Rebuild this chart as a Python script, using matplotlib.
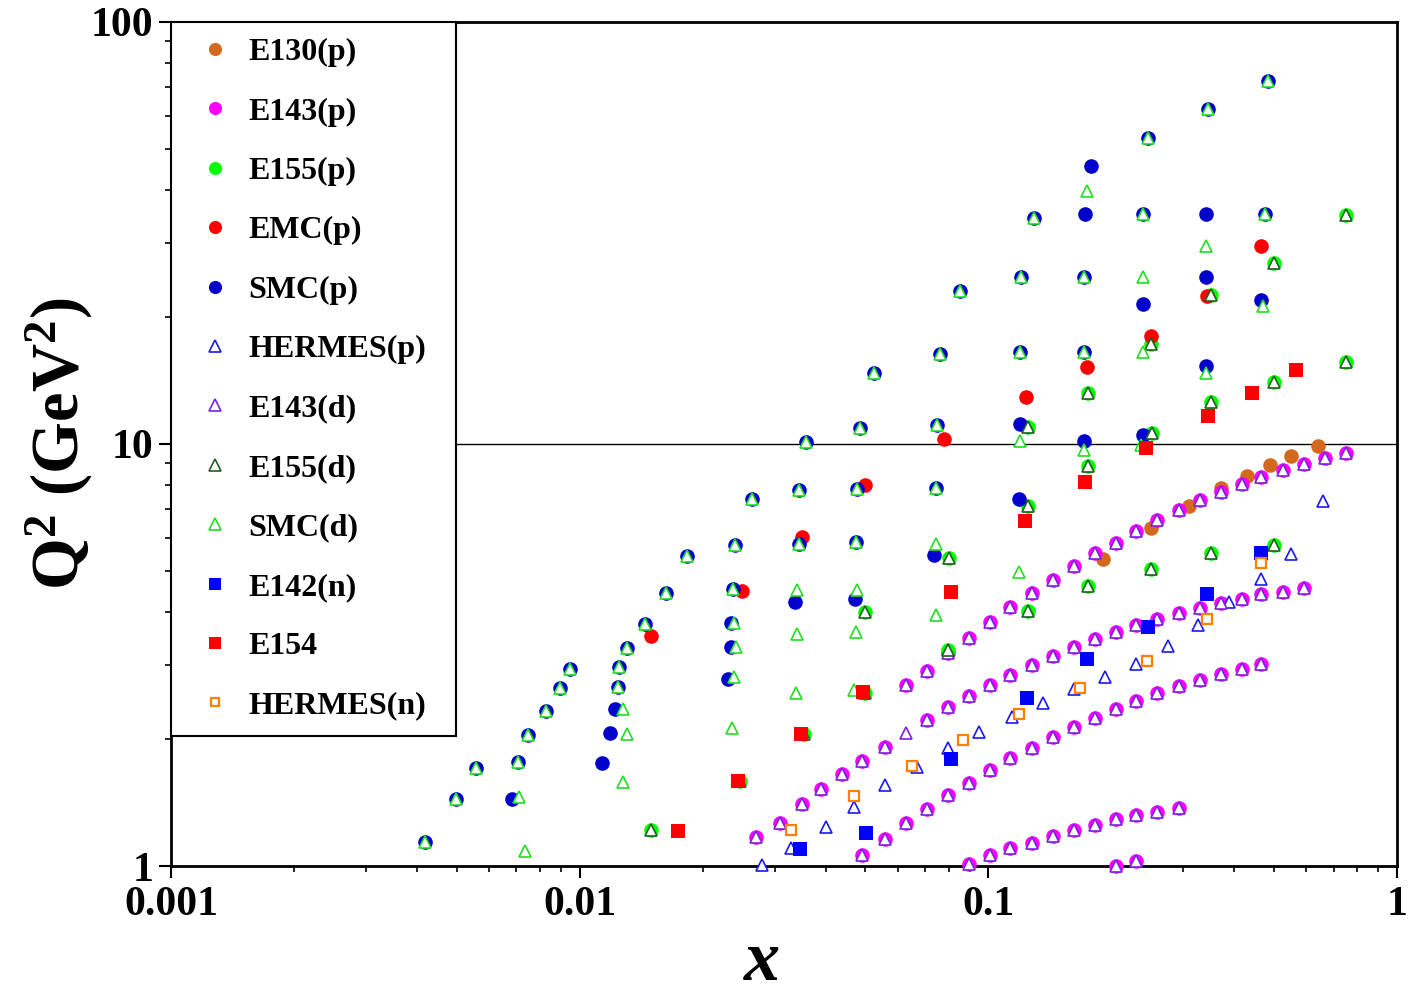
import matplotlib
matplotlib.use('Agg')
import matplotlib.pyplot as plt
from matplotlib.ticker import FixedLocator, FixedFormatter, LogLocator, NullFormatter

plt.rcParams['font.family'] = ['Liberation Serif', 'DejaVu Serif']
plt.rcParams['font.weight'] = 'bold'
plt.rcParams['mathtext.fontset'] = 'custom'
plt.rcParams['mathtext.rm'] = 'Liberation Serif:bold'
plt.rcParams['mathtext.bf'] = 'Liberation Serif:bold'
plt.rcParams['mathtext.it'] = 'Liberation Serif:bold:italic'

# ---- kinematic coverage (x, Q^2 in GeV^2) ---------------------------------
e130p_x = [0.1907, 0.2500, 0.3096, 0.3708, 0.4294, 0.4887, 0.5500, 0.6405]
e130p_q2 = [5.35, 6.33, 7.14, 7.88, 8.41, 8.93, 9.38, 9.91]

e143p_x = [0.0270, 0.0309, 0.0350, 0.0389, 0.0438, 0.0491, 0.0559,
           0.0708, 0.0796, 0.0896, 0.1009, 0.1129, 0.1279, 0.1439, 0.1620,
           0.1823, 0.2052, 0.2297, 0.2586, 0.2927, 0.3294, 0.3708, 0.4174,
           0.4646, 0.5258, 0.5918,
           0.0629, 0.0708, 0.0796, 0.0896, 0.1009, 0.1129, 0.1279, 0.1439,
           0.1620, 0.1823, 0.2052, 0.2297, 0.2586, 0.2927, 0.3294, 0.3708,
           0.4174, 0.4646, 0.5258, 0.5918, 0.6663, 0.7499,
           0.0491, 0.0559, 0.0629, 0.0708, 0.0796, 0.0896, 0.1009, 0.1129,
           0.1279, 0.1439, 0.1620, 0.1823, 0.2052, 0.2297, 0.2586, 0.2927,
           0.3294, 0.3708, 0.4174, 0.4646,
           0.0896, 0.1009, 0.1129, 0.1279, 0.1439, 0.1620, 0.1823, 0.2052,
           0.2297, 0.2586, 0.2927,
           0.2052, 0.2297]
e143p_q2 = [1.172, 1.265, 1.403, 1.522, 1.653, 1.774, 1.915,
            2.219, 2.383, 2.530, 2.687, 2.838, 2.997, 3.148, 3.306,
            3.453, 3.588, 3.728, 3.853, 3.981, 4.091, 4.205, 4.297,
            4.416, 4.464, 4.563,
            2.687, 2.900, 3.200, 3.473, 3.790, 4.114, 4.441, 4.767,
            5.145, 5.525, 5.834, 6.228, 6.614, 6.985, 7.377, 7.707,
            8.054, 8.368, 8.692, 8.981, 9.280, 9.537,
            1.062, 1.159, 1.265, 1.365, 1.474, 1.574, 1.689, 1.804,
            1.905, 2.023, 2.136, 2.244, 2.357, 2.462, 2.572, 2.673,
            2.762, 2.854, 2.933, 3.013,
            1.011, 1.062, 1.103, 1.134, 1.178, 1.217, 1.251, 1.292,
            1.321, 1.343, 1.373,
            1.000, 1.028]

e155p_x = [0.01495, 0.0247, 0.0354, 0.0499, 0.0499, 0.0796, 0.0801, 0.1250,
           0.1250, 0.1250, 0.1753, 0.1753, 0.1753, 0.2500, 0.2514, 0.2500,
           0.3505, 0.3505, 0.3505, 0.4998, 0.4998, 0.4998, 0.7499, 0.7499]
e155p_q2 = [1.217, 1.591, 2.056, 2.57, 4.00, 3.25, 5.38, 4.02,
            7.14, 10.99, 4.61, 8.88, 13.23, 5.06, 10.64, 17.29,
            5.52, 12.60, 22.6, 5.77, 14.05, 26.9, 15.67, 34.8]

emcp_x = [0.01495, 0.02495, 0.0350, 0.0499, 0.0779, 0.1236, 0.1743, 0.2500,
          0.3426, 0.4646]
emcp_q2 = [3.51, 4.49, 6.03, 8.01, 10.29, 12.95, 15.25, 18.06, 22.47, 29.5]

smcp_x = [0.00418, 0.00498, 0.00558, 0.00683, 0.00706, 0.00747, 0.00827,
          0.00895, 0.00947, 0.01134, 0.01186, 0.0122, 0.01241, 0.01248,
          0.01305, 0.01445, 0.01627, 0.0183, 0.02346, 0.02346, 0.02307,
          0.02372, 0.02399, 0.0264, 0.03578, 0.0344, 0.0344, 0.03373,
          0.04852, 0.04771, 0.04744, 0.0472, 0.0525, 0.0761, 0.0749, 0.0744,
          0.0736, 0.0852, 0.1202, 0.1195, 0.1195, 0.1188, 0.1293, 0.1782,
          0.1723, 0.1713, 0.1713, 0.1713, 0.2458, 0.239, 0.239, 0.239,
          0.3446, 0.3407, 0.3407, 0.3407, 0.4832, 0.4752, 0.4646]
smcp_q2 = [1.14, 1.442, 1.708, 1.44, 1.765, 2.045, 2.33,
           2.64, 2.93, 1.755, 2.07, 2.36, 2.66, 2.96,
           3.29, 3.75, 4.44, 5.43, 3.77, 3.31, 2.78,
           4.54, 5.77, 7.42, 10.13, 7.79, 5.80, 4.23,
           10.93, 7.83, 5.87, 4.30, 14.76, 16.37, 11.11, 7.88,
           5.46, 23.1, 24.8, 16.55, 11.17, 7.42, 34.4, 45.5,
           35.0, 24.9, 16.5, 10.18, 53.0, 35.0, 21.5, 10.52,
           62.1, 35.0, 24.9, 15.3, 72.3, 35.0, 21.9]

hermesp_x = [0.02793, 0.03289, 0.04006, 0.0469, 0.0559, 0.0669, 0.0796,
             0.0948, 0.1142, 0.1360, 0.1620, 0.1929, 0.2297, 0.2750, 0.3256,
             0.3879, 0.4646, 0.5500, 0.6588]
hermesp_q2 = [1.005, 1.103, 1.237, 1.380, 1.556, 1.717, 1.905,
              2.079, 2.256, 2.435, 2.630, 2.807, 3.013, 3.325, 3.728,
              4.227, 4.792, 5.495, 7.337]

e143d_x = e143p_x + [0.0629]
e143d_q2 = e143p_q2 + [2.067]

e155d_x = list(e155p_x)
e155d_q2 = list(e155p_q2)

smcd_x = [0.00418, 0.00498, 0.00558, 0.00706, 0.00747, 0.00827, 0.00895,
          0.00947, 0.01241, 0.01248, 0.01305, 0.01445, 0.01627, 0.0183,
          0.02372, 0.02399, 0.0264, 0.03578, 0.0344, 0.0344, 0.04852,
          0.04771, 0.04744, 0.0525, 0.0761, 0.0749, 0.0744, 0.0852, 0.1202,
          0.1195, 0.1293, 0.1713, 0.1713, 0.2458, 0.239, 0.3446, 0.4832,
          0.4752,
          0.0071, 0.01305, 0.01276, 0.02385, 0.02412, 0.02385, 0.0341,
          0.0477, 0.0744, 0.1195, 0.1713, 0.2363, 0.1743, 0.3407, 0.3407,
          0.4698, 0.239, 0.239,
          0.00735, 0.01276, 0.02359, 0.0341, 0.0339, 0.0474, 0.0469, 0.0744,
          0.1188]
smcd_q2 = [1.14, 1.442, 1.708, 1.765, 2.045, 2.33, 2.64,
           2.93, 2.66, 2.96, 3.29, 3.75, 4.44, 5.43,
           4.54, 5.77, 7.42, 10.13, 7.79, 5.80, 10.93,
           7.83, 5.87, 14.76, 16.37, 11.11, 7.88, 23.1, 24.8,
           16.55, 34.4, 24.9, 16.5, 53.0, 35.0, 62.1, 72.3,
           35.0,
           1.457, 2.056, 2.36, 3.77, 3.31, 2.81, 4.51,
           4.51, 5.80, 10.18, 9.69, 9.96, 39.7, 29.5, 14.76,
           21.2, 24.8, 16.5,
           1.085, 1.582, 2.125, 3.55, 2.57, 3.59, 2.61, 3.94,
           4.98]

e142n_x = [0.0346, 0.0502, 0.0810, 0.1243, 0.1743, 0.2458, 0.3426, 0.4646]
e142n_q2 = [1.097, 1.197, 1.794, 2.503, 3.097, 3.688, 4.416, 5.525]

e154_x = [0.0174, 0.0244, 0.0348, 0.0494, 0.0810, 0.1229, 0.1723, 0.2430,
          0.3446, 0.4416, 0.5657]
e154_q2 = [1.211, 1.591, 2.056, 2.586, 4.464, 6.579, 8.14, 9.80,
           11.67, 13.23, 15.01]

hermesn_x = [0.0329, 0.0469, 0.0650, 0.0867, 0.1188, 0.1675, 0.2444, 0.3426,
             0.4646]
hermesn_q2 = [1.217, 1.466, 1.726, 1.990, 2.293, 2.643, 3.063, 3.853, 5.231]

# label, x, y, marker, size, face, edge, edge width
series = [
    ('E130(p)',   e130p_x,   e130p_q2,   'o', 10.5, '#d2691e', '#d2691e', 0.0),
    ('E143(p)',   e143p_x,   e143p_q2,   'o', 10.5, '#ff00ff', '#ff00ff', 0.0),
    ('E155(p)',   e155p_x,   e155p_q2,   'o', 10.5, '#00ff00', '#00ff00', 0.0),
    ('EMC(p)',    emcp_x,    emcp_q2,    'o', 10.5, '#ff0000', '#ff0000', 0.0),
    ('SMC(p)',    smcp_x,    smcp_q2,    'o', 10.5, '#0000cc', '#0000cc', 0.0),
    ('HERMES(p)', hermesp_x, hermesp_q2, '^', 9.0,  'white',   '#1a1aee', 1.2),
    ('E143(d)',   e143d_x,   e143d_q2,   '^', 9.0,  'white',   '#7a22e0', 1.2),
    ('E155(d)',   e155d_x,   e155d_q2,   '^', 9.0,  'white',   '#1f5f1f', 1.2),
    ('SMC(d)',    smcd_x,    smcd_q2,    '^', 9.0,  'white',   '#22dd22', 1.2),
    ('E142(n)',   e142n_x,   e142n_q2,   's', 10.0, '#0000ff', '#0000ff', 0.0),
    ('E154',      e154_x,    e154_q2,    's', 10.0, '#ff0000', '#ff0000', 0.0),
    ('HERMES(n)', hermesn_x, hermesn_q2, 's', 6.5,  'white',   '#ff7f00', 1.6),
]

fig = plt.figure(figsize=(14.19, 9.96), dpi=100)
ax = fig.add_axes([0.1205, 0.1305, 0.864, 0.8475])

ax.axhline(10.0, color='black', lw=1.0, zorder=1)

for lab, xs, ys, mk, ms, fc, ec, mew in series:
    ax.plot(xs, ys, linestyle='none', marker=mk, markersize=ms,
            markerfacecolor=fc, markeredgecolor=ec, markeredgewidth=mew,
            label=lab, clip_on=False, zorder=3)

ax.set_xscale('log')
ax.set_yscale('log')
ax.set_xlim(0.001, 1.0)
ax.set_ylim(1.0, 100.0)

ax.xaxis.set_major_locator(FixedLocator([0.001, 0.01, 0.1, 1.0]))
ax.xaxis.set_major_formatter(FixedFormatter(['0.001', '0.01', '0.1', '1']))
ax.yaxis.set_major_locator(FixedLocator([1.0, 10.0, 100.0]))
ax.yaxis.set_major_formatter(FixedFormatter(['1', '10', '100']))
ax.xaxis.set_minor_locator(LogLocator(base=10, subs=range(2, 10)))
ax.yaxis.set_minor_locator(LogLocator(base=10, subs=range(2, 10)))
ax.xaxis.set_minor_formatter(NullFormatter())
ax.yaxis.set_minor_formatter(NullFormatter())

ax.tick_params(which='both', direction='out', top=False, right=False)
ax.tick_params(which='major', length=8.5, width=1.5, labelsize=30)
ax.tick_params(axis='x', which='major', pad=6)
ax.tick_params(axis='y', which='major', pad=4)
ax.tick_params(which='minor', length=4.5, width=1.2)
for lbl in ax.get_xticklabels() + ax.get_yticklabels():
    lbl.set_fontweight('bold')
for sp in ax.spines.values():
    sp.set_linewidth(2.0)

ax.set_xlabel(r'$\mathit{x}$', fontsize=52)
ax.xaxis.set_label_coords(0.482, -0.076)
ax.set_ylabel(r'$\mathbf{Q^2\ (GeV^2)}$', fontsize=48)
ax.yaxis.set_label_coords(-0.062, 0.5)

leg = ax.legend(loc='upper left', bbox_to_anchor=(0.0, 0.0, 0.2325, 1.0),
                mode='expand', borderaxespad=0.0, fancybox=False,
                framealpha=1.0, edgecolor='black',
                prop={'family': 'Liberation Serif', 'weight': 'bold', 'size': 23},
                labelspacing=0.94, handlelength=1.78, handletextpad=0.15,
                borderpad=0.5, markerscale=0.9)
leg.get_frame().set_linewidth(1.5)
leg.set_zorder(10)

fig.savefig('out.png', dpi=100)
